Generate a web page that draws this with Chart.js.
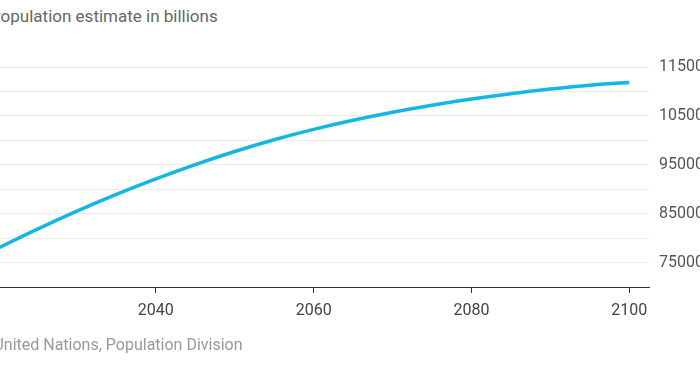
<!DOCTYPE html>
<html>
<head>
<meta charset="utf-8">
<script src="https://cdn.jsdelivr.net/npm/chart.js@4.4.1/dist/chart.umd.min.js"></script>
<style>
  html, body { margin: 0; padding: 0; background: #fff; overflow: hidden; width: 700px; height: 368px; }
  body { position: relative; font-family: Roboto, "Noto Sans", sans-serif; }
  #wrap { position: absolute; left: -2px; top: 0; width: 721px; height: 368px; }
  .subtitle { position: absolute; left: -10px; top: 6px; font-size: 17px; color: #666; white-space: nowrap; }
  .source { position: absolute; left: -64px; top: 335px; font-size: 16px; color: #999; white-space: nowrap; }
</style>
</head>
<body>
<div class="subtitle">Population estimate in billions</div>
<div id="wrap"><canvas id="popChart" width="721" height="368"></canvas></div>
<div class="source">Source: United Nations, Population Division</div>
<script>
// World population, medium projection (thousands)
const years = [2020, 2025, 2030, 2035, 2040, 2045, 2050, 2055, 2060, 2065, 2070, 2075, 2080, 2085, 2090, 2095, 2100];
const population = [7795000, 8184000, 8551000, 8893000, 9210000, 9504000, 9772000, 10013000, 10224000,
                    10410000, 10574000, 10718000, 10845000, 10955000, 11049000, 11128000, 11184000];
const xTicks = [2040, 2060, 2080, 2100];
const yLabelled = [7500000, 8500000, 9500000, 10500000, 11500000];

const points = years.map((y, i) => ({ x: y, y: population[i] }));

const ctx = document.getElementById('popChart').getContext('2d');
new Chart(ctx, {
  type: 'line',
  data: {
    datasets: [{
      data: points,
      borderColor: '#14b6e4',
      borderWidth: 3.5,
      pointRadius: 0,
      cubicInterpolationMode: 'monotone',
      fill: false
    }]
  },
  options: {
    responsive: false,
    animation: false,
    layout: { padding: { left: 0, right: 0, top: 67, bottom: 41 } },
    plugins: { legend: { display: false }, tooltip: { enabled: false } },
    scales: {
      x: {
        type: 'linear',
        min: 2020,
        max: 2102.5,
        afterBuildTicks: scale => { scale.ticks = xTicks.map(v => ({ value: v })); },
        afterFit: scale => { scale.height = 40; },
        grid: { drawOnChartArea: false, drawTicks: true, tickLength: 6, color: '#333' },
        border: { color: '#333', width: 1 },
        ticks: {
          padding: 8,
          color: '#444',
          font: { size: 16, family: 'Roboto' },
          callback: v => String(v)
        }
      },
      y: {
        position: 'right',
        min: 7000000,
        max: 11500000,
        afterFit: scale => { scale.width = 70; },
        grid: { color: '#ececec', drawTicks: false },
        border: { display: false },
        ticks: {
          stepSize: 500000,
          padding: 10,
          color: '#555',
          font: { size: 16, family: 'Roboto' },
          callback: v => yLabelled.includes(v) ? String(v) : ''
        }
      }
    }
  }
});
</script>
</body>
</html>
